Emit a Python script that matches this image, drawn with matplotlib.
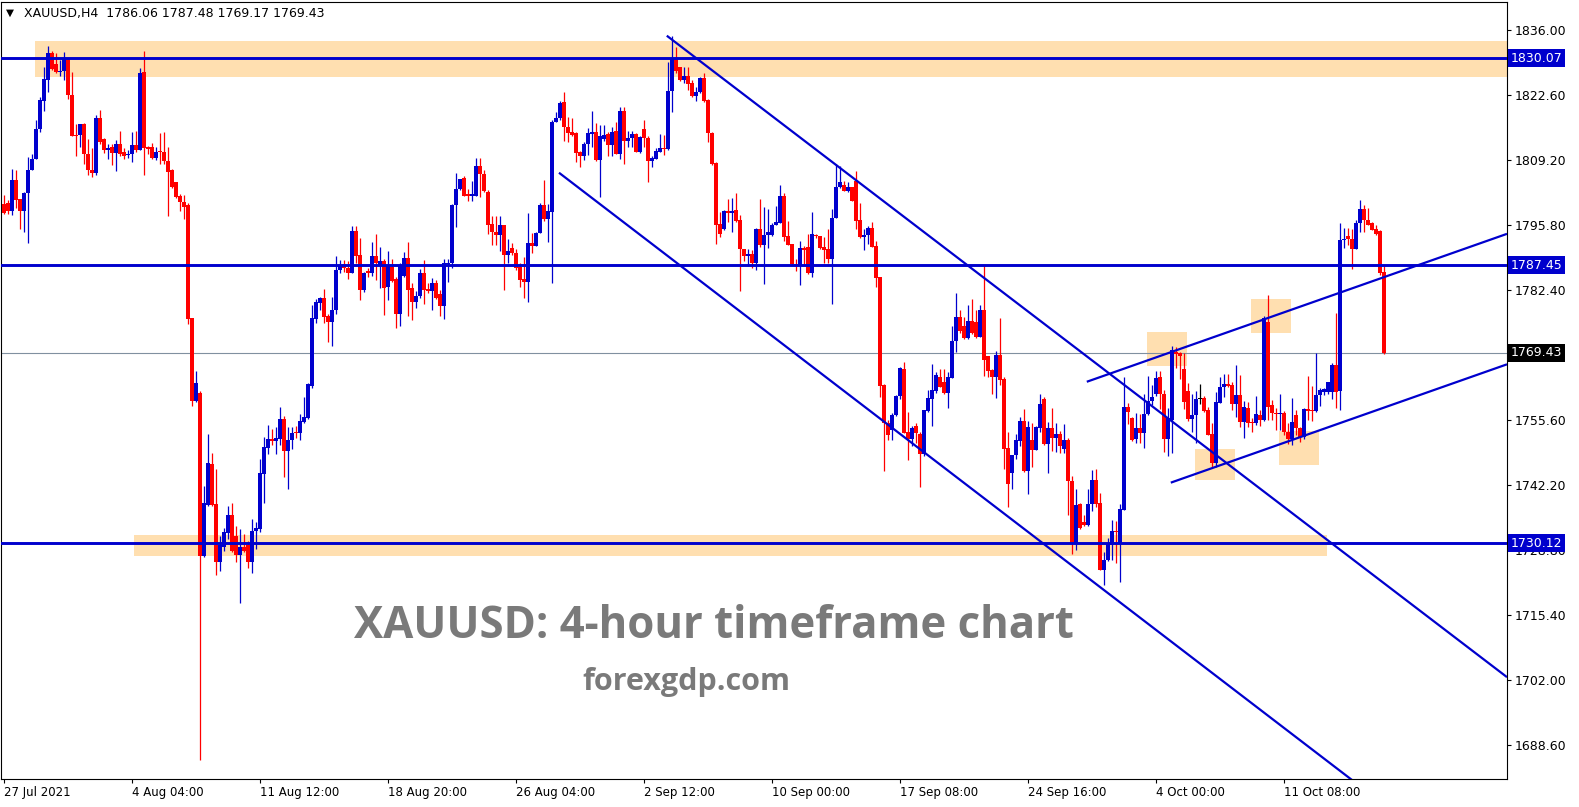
import numpy as np
import matplotlib
matplotlib.use('Agg')
from matplotlib import pyplot as plt
from matplotlib.patches import Rectangle

# XAUUSD H4 bars (index 0 = 27 Jul 20:00)
opens = [
    1800.1, 1800.2, 1798.6, 1804.9, 1801.0, 1798.7, 1802.3, 1807.0, 1809.4, 1815.5,
    1821.3, 1825.6, 1831.2, 1828.9, 1827.3, 1827.5, 1829.9, 1822.5, 1814.3, 1814.2,
    1816.5, 1810.4, 1807.1, 1806.4, 1817.8, 1813.4, 1811.1, 1811.8, 1810.6, 1812.5,
    1810.7, 1810.1, 1810.3, 1812.3, 1811.1, 1827.2, 1811.8, 1811.9, 1809.5, 1810.9,
    1810.8, 1809.0, 1807.0, 1804.5, 1801.7, 1800.5, 1799.8, 1776.5, 1759.5, 1761.1,
    1727.4, 1737.9, 1746.5, 1738.2, 1726.2, 1729.3, 1732.2, 1736.0, 1731.6, 1727.6,
    1729.4, 1729.7, 1726.2, 1732.6, 1733.1, 1744.4, 1749.8, 1751.5, 1751.2, 1751.6,
    1755.7, 1749.1, 1751.4, 1753.1, 1752.8, 1755.1, 1756.0, 1762.5, 1776.4, 1779.6,
    1780.6, 1776.9, 1775.8, 1778.3, 1786.5, 1787.7, 1786.9, 1785.9, 1794.5, 1789.5,
    1782.3, 1786.2, 1785.9, 1789.3, 1787.5, 1788.2, 1782.9, 1787.1, 1784.5, 1777.3,
    1785.2, 1789.0, 1782.8, 1779.9, 1781.0, 1785.9, 1782.5, 1782.1, 1783.8, 1781.4,
    1779.0, 1787.6, 1787.8, 1799.8, 1803.1, 1805.4, 1802.1, 1801.7, 1801.8, 1807.9,
    1806.2, 1802.6, 1795.9, 1794.3, 1793.7, 1795.7, 1789.5, 1791.0, 1790.0, 1787.1,
    1784.6, 1784.0, 1792.1, 1791.4, 1794.0, 1799.8, 1797.0, 1798.5, 1817.0, 1817.8,
    1821.1, 1815.9, 1814.9, 1814.7, 1810.7, 1809.9, 1812.5, 1814.4, 1814.9, 1809.2,
    1813.5, 1814.4, 1812.2, 1815.1, 1810.4, 1819.3, 1813.0, 1813.7, 1814.4, 1810.7,
    1815.6, 1813.7, 1808.9, 1809.4, 1810.8, 1811.6, 1811.4, 1823.3, 1829.9, 1828.3,
    1825.6, 1826.4, 1824.9, 1822.3, 1823.2, 1826.1, 1821.5, 1814.7, 1808.6, 1796.0,
    1794.8, 1798.6, 1798.2, 1798.9, 1796.8, 1790.8, 1789.4, 1789.8, 1787.9, 1794.8,
    1791.7, 1793.6, 1793.7, 1795.7, 1796.1, 1801.8, 1793.5, 1791.8, 1787.7, 1787.5,
    1791.0, 1791.1, 1785.9, 1793.7, 1793.5, 1791.2, 1790.8, 1788.8, 1797.2, 1803.5,
    1803.9, 1802.8, 1803.5, 1804.8, 1796.8, 1793.2, 1793.7, 1795.1, 1791.3, 1784.9,
    1762.7, 1754.8, 1753.4, 1756.5, 1760.4, 1766.0, 1753.1, 1751.7, 1754.2, 1752.7,
    1748.5, 1757.3, 1759.8, 1761.5, 1764.4, 1763.4, 1761.1, 1764.2, 1771.9, 1776.7,
    1774.9, 1772.4, 1775.9, 1775.8, 1772.6, 1778.2, 1768.7, 1765.8, 1764.4, 1768.9,
    1763.9, 1749.8, 1744.6, 1748.2, 1751.2, 1755.3, 1745.1, 1751.4, 1749.4, 1753.9,
    1759.8, 1750.6, 1753.8, 1751.9, 1752.6, 1749.6, 1751.3, 1743.0, 1730.1, 1738.2,
    1734.4, 1733.9, 1738.3, 1743.1, 1738.4, 1724.5, 1726.6, 1729.8, 1732.7, 1730.1,
    1737.0, 1758.3, 1756.0, 1751.5, 1753.8, 1752.8, 1756.7, 1759.4, 1760.8, 1764.3,
    1760.8, 1751.5, 1755.5, 1769.6, 1769.4, 1766.0, 1761.5, 1755.7, 1756.5, 1759.9,
    1760.0, 1757.5, 1752.6, 1746.7, 1759.1, 1762.4, 1762.9, 1762.7, 1758.9, 1760.6,
    1755.1, 1757.9, 1755.0, 1754.8, 1756.5, 1755.5, 1775.8, 1758.6, 1757.0, 1756.7,
    1756.9, 1753.1, 1751.5, 1756.5, 1753.9, 1752.0, 1757.7, 1757.5, 1757.4, 1760.7,
    1761.3, 1761.3, 1761.2, 1766.9, 1761.5, 1792.6, 1793.4, 1792.8, 1790.8, 1796.1,
    1799.1, 1796.8, 1796.1, 1794.9, 1794.4, 1786.06,
]
highs = [
    1802.0, 1800.8, 1807.3, 1807.0, 1801.1, 1802.5, 1809.7, 1810.3, 1817.4, 1822.1,
    1828.2, 1832.6, 1831.6, 1831.1, 1829.7, 1831.4, 1830.1, 1827.3, 1816.5, 1816.5,
    1816.8, 1813.4, 1811.7, 1818.5, 1819.4, 1813.7, 1812.5, 1812.5, 1813.3, 1815.0,
    1811.5, 1811.1, 1814.8, 1815.0, 1828.0, 1831.6, 1812.1, 1812.6, 1811.9, 1814.6,
    1814.9, 1811.9, 1807.2, 1804.6, 1802.2, 1802.0, 1800.2, 1776.6, 1765.7, 1761.5,
    1742.0, 1752.6, 1748.7, 1745.5, 1731.7, 1733.3, 1737.7, 1738.4, 1733.7, 1733.0,
    1732.0, 1730.6, 1735.2, 1734.5, 1747.4, 1752.0, 1754.5, 1753.7, 1754.1, 1758.2,
    1756.3, 1754.1, 1754.0, 1754.2, 1756.8, 1760.2, 1763.2, 1779.2, 1780.5, 1780.8,
    1782.5, 1777.4, 1780.9, 1789.4, 1788.6, 1788.6, 1788.4, 1795.5, 1795.5, 1793.1,
    1786.1, 1786.8, 1792.2, 1793.9, 1791.1, 1788.8, 1790.3, 1788.8, 1785.0, 1787.8,
    1790.1, 1792.3, 1783.7, 1782.1, 1786.6, 1788.5, 1783.8, 1784.7, 1784.3, 1782.3,
    1788.7, 1788.7, 1800.1, 1806.4, 1805.3, 1805.8, 1803.2, 1804.7, 1809.5, 1809.5,
    1807.1, 1803.0, 1797.6, 1797.6, 1797.6, 1795.7, 1792.9, 1792.1, 1790.8, 1787.8,
    1789.2, 1798.1, 1794.1, 1794.3, 1800.2, 1805.0, 1800.0, 1817.4, 1819.1, 1821.3,
    1823.2, 1817.9, 1817.7, 1814.8, 1811.0, 1812.8, 1815.8, 1819.3, 1816.8, 1816.3,
    1816.3, 1814.9, 1815.9, 1817.0, 1820.1, 1820.1, 1815.1, 1815.2, 1814.6, 1814.0,
    1817.3, 1814.0, 1809.9, 1811.5, 1814.5, 1814.2, 1829.4, 1834.7, 1832.5, 1828.3,
    1828.3, 1828.2, 1825.6, 1824.2, 1826.3, 1827.1, 1821.8, 1814.9, 1808.7, 1798.3,
    1798.9, 1801.1, 1801.3, 1802.3, 1797.8, 1790.8, 1790.8, 1790.6, 1795.1, 1801.0,
    1799.4, 1799.0, 1796.1, 1799.6, 1803.9, 1802.3, 1796.6, 1791.8, 1788.7, 1792.5,
    1791.4, 1793.9, 1798.4, 1793.9, 1793.5, 1793.2, 1794.8, 1799.0, 1808.2, 1807.9,
    1804.8, 1804.5, 1803.5, 1806.8, 1800.2, 1794.8, 1795.5, 1796.3, 1792.5, 1784.9,
    1763.0, 1755.5, 1756.9, 1760.6, 1766.4, 1767.4, 1757.1, 1754.3, 1754.9, 1753.0,
    1757.6, 1761.8, 1767.1, 1765.5, 1766.0, 1766.1, 1765.4, 1774.9, 1781.8, 1778.2,
    1776.8, 1779.3, 1780.4, 1778.2, 1779.3, 1787.5, 1768.7, 1766.0, 1769.8, 1776.5,
    1764.4, 1753.1, 1748.4, 1752.7, 1756.1, 1757.7, 1755.3, 1754.8, 1754.3, 1760.9,
    1760.3, 1755.1, 1757.9, 1755.0, 1753.3, 1754.6, 1751.9, 1743.9, 1741.3, 1738.4,
    1735.9, 1741.3, 1745.3, 1745.5, 1740.5, 1728.4, 1731.1, 1735.0, 1734.6, 1738.1,
    1764.3, 1759.1, 1756.2, 1757.0, 1756.7, 1760.8, 1764.6, 1762.7, 1765.6, 1765.6,
    1761.8, 1757.9, 1770.8, 1770.6, 1769.5, 1769.4, 1763.2, 1760.8, 1761.5, 1762.9,
    1760.4, 1758.3, 1755.0, 1761.3, 1764.4, 1765.1, 1765.1, 1763.3, 1766.9, 1764.8,
    1759.5, 1759.3, 1755.9, 1760.4, 1757.5, 1776.9, 1781.3, 1759.6, 1757.9, 1760.9,
    1757.4, 1754.8, 1760.0, 1757.5, 1754.1, 1757.9, 1764.6, 1762.5, 1769.4, 1762.1,
    1762.1, 1763.4, 1767.2, 1777.5, 1796.1, 1795.1, 1795.1, 1794.9, 1796.8, 1800.8,
    1799.9, 1799.3, 1796.4, 1795.8, 1794.7, 1787.48,
]
lows = [
    1797.9, 1797.9, 1797.7, 1799.3, 1795.0, 1794.2, 1792.1, 1807.0, 1809.3, 1814.9,
    1819.2, 1823.2, 1827.6, 1827.0, 1826.5, 1825.6, 1821.6, 1814.1, 1809.9, 1811.8,
    1808.3, 1806.1, 1805.6, 1806.1, 1812.5, 1810.5, 1809.3, 1808.0, 1806.8, 1810.0,
    1809.4, 1809.5, 1808.7, 1810.8, 1811.1, 1806.1, 1810.3, 1809.4, 1809.2, 1808.3,
    1808.2, 1797.5, 1803.3, 1801.3, 1798.7, 1796.9, 1775.4, 1758.5, 1759.3, 1685.5,
    1727.3, 1737.7, 1737.7, 1723.6, 1724.4, 1728.5, 1731.0, 1728.4, 1726.2, 1717.7,
    1728.3, 1725.0, 1724.0, 1729.0, 1732.4, 1738.5, 1748.6, 1750.4, 1748.6, 1750.4,
    1743.8, 1741.3, 1749.6, 1751.9, 1751.4, 1755.0, 1755.8, 1762.1, 1775.6, 1778.1,
    1775.5, 1771.7, 1770.7, 1777.4, 1785.8, 1786.1, 1784.6, 1785.8, 1787.8, 1780.2,
    1781.9, 1785.1, 1785.2, 1784.4, 1782.8, 1777.1, 1780.3, 1784.0, 1774.4, 1775.0,
    1785.0, 1777.0, 1776.1, 1778.7, 1780.7, 1779.5, 1781.6, 1778.1, 1780.5, 1777.0,
    1776.4, 1784.0, 1786.8, 1795.4, 1802.9, 1801.8, 1800.6, 1800.6, 1801.7, 1801.5,
    1802.6, 1793.9, 1791.6, 1791.6, 1790.3, 1782.3, 1787.9, 1789.6, 1786.4, 1783.0,
    1780.7, 1779.9, 1790.0, 1791.4, 1794.0, 1796.6, 1792.3, 1783.7, 1816.9, 1817.3,
    1813.0, 1812.9, 1814.0, 1808.7, 1807.7, 1809.1, 1810.1, 1811.9, 1809.0, 1801.5,
    1813.1, 1810.0, 1810.0, 1810.4, 1809.4, 1808.4, 1811.8, 1811.8, 1810.7, 1810.6,
    1811.8, 1804.6, 1807.7, 1809.4, 1810.8, 1810.1, 1811.1, 1819.1, 1827.1, 1825.4,
    1825.1, 1823.6, 1822.2, 1821.3, 1822.9, 1821.1, 1812.9, 1808.1, 1791.9, 1793.2,
    1794.6, 1796.3, 1794.2, 1796.3, 1782.2, 1788.4, 1787.3, 1786.9, 1786.5, 1791.2,
    1783.6, 1790.9, 1793.5, 1795.7, 1796.1, 1792.5, 1791.5, 1787.5, 1786.3, 1783.4,
    1787.4, 1785.6, 1785.1, 1793.1, 1790.8, 1787.9, 1787.9, 1779.5, 1797.2, 1803.4,
    1802.7, 1802.6, 1800.6, 1794.8, 1793.0, 1790.6, 1791.9, 1791.2, 1782.9, 1760.3,
    1745.0, 1751.4, 1751.3, 1756.3, 1759.8, 1752.9, 1747.2, 1750.2, 1750.7, 1741.8,
    1748.0, 1757.2, 1754.2, 1761.0, 1762.4, 1760.8, 1757.9, 1764.1, 1769.6, 1773.5,
    1772.2, 1772.2, 1773.3, 1772.5, 1772.6, 1764.6, 1764.4, 1760.8, 1760.1, 1762.7,
    1745.5, 1737.6, 1741.3, 1747.5, 1750.2, 1744.8, 1740.2, 1745.8, 1749.3, 1753.1,
    1750.3, 1744.6, 1749.2, 1749.0, 1748.8, 1748.8, 1735.9, 1727.9, 1728.8, 1733.0,
    1733.6, 1733.6, 1736.8, 1737.5, 1724.5, 1721.5, 1726.4, 1726.7, 1726.1, 1722.2,
    1737.0, 1754.6, 1751.2, 1750.8, 1750.8, 1749.8, 1756.5, 1758.7, 1760.4, 1757.7,
    1748.9, 1748.0, 1748.8, 1766.2, 1763.9, 1757.7, 1755.3, 1753.0, 1750.8, 1758.9,
    1757.2, 1752.4, 1745.8, 1745.8, 1759.0, 1760.3, 1762.4, 1757.5, 1756.2, 1754.0,
    1751.9, 1754.0, 1753.0, 1754.5, 1754.2, 1755.4, 1755.5, 1755.5, 1753.4, 1753.4,
    1752.4, 1750.6, 1750.3, 1752.4, 1751.0, 1751.7, 1755.5, 1755.3, 1757.1, 1758.4,
    1760.6, 1760.8, 1759.9, 1757.9, 1757.5, 1790.9, 1791.6, 1786.6, 1790.8, 1794.2,
    1794.2, 1795.8, 1794.6, 1793.7, 1785.4, 1769.17,
]
closes = [
    1798.1, 1798.6, 1804.9, 1800.8, 1798.6, 1802.3, 1807.0, 1809.4, 1815.6, 1821.4,
    1825.8, 1831.2, 1827.8, 1827.2, 1827.5, 1829.9, 1822.5, 1814.1, 1814.1, 1816.5,
    1810.3, 1807.0, 1806.4, 1817.7, 1812.8, 1811.1, 1811.7, 1810.6, 1812.5, 1810.4,
    1809.9, 1810.3, 1812.3, 1811.1, 1827.0, 1811.6, 1811.4, 1809.5, 1810.8, 1810.8,
    1808.9, 1806.6, 1803.5, 1801.5, 1800.4, 1799.5, 1776.4, 1759.5, 1763.1, 1727.4,
    1738.4, 1746.7, 1737.9, 1726.2, 1729.7, 1732.4, 1736.0, 1728.5, 1727.6, 1729.4,
    1728.5, 1726.2, 1732.7, 1733.3, 1744.6, 1749.9, 1751.6, 1751.2, 1751.8, 1755.8,
    1749.1, 1751.4, 1752.8, 1752.9, 1755.3, 1756.2, 1763.0, 1776.5, 1779.8, 1780.6,
    1776.8, 1775.8, 1778.3, 1786.5, 1787.3, 1786.8, 1785.9, 1794.5, 1789.4, 1782.3,
    1785.9, 1785.9, 1789.3, 1787.8, 1788.2, 1782.8, 1787.3, 1784.1, 1777.3, 1787.2,
    1789.0, 1782.4, 1779.9, 1781.0, 1785.9, 1782.4, 1782.1, 1783.8, 1780.7, 1779.0,
    1787.8, 1787.9, 1799.8, 1803.2, 1805.2, 1801.8, 1801.8, 1802.1, 1807.9, 1806.2,
    1802.7, 1795.7, 1794.2, 1793.7, 1795.7, 1789.5, 1790.3, 1789.9, 1786.9, 1784.4,
    1784.0, 1792.1, 1791.4, 1794.0, 1799.8, 1797.0, 1798.6, 1817.0, 1817.8, 1820.9,
    1815.9, 1814.7, 1814.2, 1810.6, 1809.9, 1812.5, 1814.7, 1814.9, 1809.2, 1814.0,
    1814.2, 1812.2, 1814.9, 1810.4, 1819.3, 1813.0, 1813.7, 1814.4, 1810.7, 1813.9,
    1813.7, 1808.9, 1809.6, 1811.0, 1811.6, 1811.4, 1823.3, 1830.1, 1827.5, 1825.6,
    1826.4, 1824.7, 1822.3, 1823.2, 1826.1, 1821.3, 1814.6, 1808.4, 1795.8, 1793.9,
    1798.6, 1798.2, 1798.7, 1796.5, 1790.8, 1789.3, 1789.8, 1787.9, 1794.8, 1791.7,
    1793.7, 1794.3, 1795.8, 1796.3, 1801.8, 1793.2, 1791.5, 1787.7, 1787.5, 1791.0,
    1790.6, 1785.9, 1793.9, 1793.4, 1791.0, 1790.6, 1788.8, 1797.2, 1803.6, 1804.6,
    1802.8, 1803.6, 1800.6, 1796.5, 1793.2, 1793.7, 1795.1, 1791.2, 1784.8, 1762.5,
    1754.8, 1752.4, 1756.5, 1760.4, 1766.2, 1752.9, 1751.7, 1753.9, 1752.9, 1748.5,
    1757.5, 1760.0, 1761.7, 1764.8, 1762.4, 1761.1, 1764.4, 1771.9, 1776.8, 1773.8,
    1772.4, 1776.0, 1773.4, 1772.6, 1778.2, 1767.8, 1765.7, 1764.4, 1768.9, 1763.8,
    1749.6, 1742.4, 1748.2, 1751.4, 1755.3, 1744.9, 1754.1, 1749.4, 1754.1, 1758.9,
    1750.5, 1753.9, 1751.9, 1752.6, 1750.1, 1751.3, 1742.9, 1730.1, 1737.9, 1733.3,
    1733.9, 1738.3, 1743.1, 1738.3, 1724.5, 1726.6, 1730.1, 1732.7, 1732.5, 1737.2,
    1758.3, 1757.2, 1751.4, 1753.8, 1752.8, 1756.7, 1759.4, 1760.3, 1764.1, 1760.8,
    1751.5, 1756.0, 1770.0, 1769.1, 1768.7, 1759.2, 1755.7, 1756.6, 1759.9, 1759.9,
    1757.4, 1752.5, 1746.7, 1759.3, 1762.4, 1762.9, 1762.6, 1758.9, 1760.6, 1755.1,
    1758.1, 1754.8, 1754.8, 1756.7, 1755.5, 1776.5, 1758.3, 1757.0, 1756.7, 1756.9,
    1753.1, 1751.5, 1755.1, 1753.8, 1752.0, 1757.7, 1757.4, 1757.4, 1760.7, 1761.7,
    1762.0, 1763.3, 1766.9, 1761.3, 1792.7, 1792.8, 1792.8, 1790.8, 1796.1, 1799.1,
    1796.8, 1795.8, 1794.6, 1793.9, 1785.9, 1769.43,
]

date_ticks = [0, 32, 64, 96, 128, 160, 192, 224, 256, 288, 320]
date_labels = ['27 Jul 2021', '4 Aug 04:00', '11 Aug 12:00', '18 Aug 20:00',
               '26 Aug 04:00', '2 Sep 12:00', '10 Sep 00:00', '17 Sep 08:00',
               '24 Sep 16:00', '4 Oct 00:00', '11 Oct 08:00']
price_ticks = [1836.0, 1822.6, 1809.2, 1795.8, 1782.4, 1769.0, 1755.6,
               1742.2, 1728.8, 1715.4, 1702.0, 1688.6]

levels = [1830.07, 1787.45, 1730.12]
last_price = 1769.43

# zones: (x0, x1, y0, y1)
zones = [(7.75, 376.0, 1826.2, 1833.7),
         (32.5, 330.75, 1727.5, 1731.8),
         (285.75, 295.7, 1766.7, 1773.7),
         (297.75, 307.75, 1743.2, 1749.55),
         (311.75, 321.75, 1773.5, 1780.5),
         (318.75, 328.75, 1746.25, 1753.3)]

# trend lines: ((x0, y0), (x1, y1))
trends = [((165.7, 1834.75), (375.75, 1702.5)),
          ((138.75, 1806.5), (340.0, 1679.4)),
          ((270.7, 1763.4), (375.75, 1793.9)),
          ((291.7, 1742.6), (375.75, 1767.0))]

BLUE = '#0000cd'
RED = '#ff0000'

W, H = 1579, 807
fig = plt.figure(figsize=(W / 100, H / 100), dpi=100)
ax = fig.add_axes([1 / W, 1 - 779 / H, 1506 / W, 777 / H])
ax.set_xlim(-0.75, 375.75)
ax.set_ylim(1681.5, 1841.7)

for x0, x1, y0, y1 in zones:
    ax.add_patch(Rectangle((x0, y0), x1 - x0, y1 - y0, facecolor='#ffdfb0',
                           edgecolor='none', zorder=0.5))

ax.axhline(last_price, color='#8090a0', lw=0.8, zorder=1)

o = np.array(opens)
h = np.array(highs)
l = np.array(lows)
c = np.array(closes)
x = np.arange(len(c))
cols = np.where(c > o, BLUE, np.where(c < o, RED, 'black'))
ax.vlines(x, l, h, colors=cols, lw=0.9, zorder=2)
body = np.maximum(np.abs(c - o), 0.22)
ax.bar(x, body, bottom=np.minimum(o, c), width=0.76, color=cols,
       linewidth=0, zorder=3)

for lv in levels:
    ax.axhline(lv, color=BLUE, lw=2.1, zorder=4)
for (x0, y0), (x1, y1) in trends:
    ax.plot([x0, x1], [y0, y1], color=BLUE, lw=1.6, zorder=4,
            solid_capstyle='butt')

# axes look
for s in ax.spines.values():
    s.set_color('black')
    s.set_linewidth(0.8)
ax.yaxis.tick_right()
ax.set_yticks(price_ticks)
# 1769.00 sits fully under the black last-price box, so it carries no text
ax.set_yticklabels(['' if p == 1769.0 else '%.2f' % p for p in price_ticks])
ax.tick_params(axis='y', length=3, width=0.8, pad=2.5, labelsize=9)
ax.set_xticks(date_ticks)
ax.set_xticklabels(date_labels)
ax.tick_params(axis='x', length=3, width=0.8, pad=2, labelsize=8.5)
for lab in ax.get_xticklabels():
    lab.set_ha('left')

ytr = ax.get_yaxis_transform()
for lv, bg in [(1830.07, BLUE), (1787.45, BLUE), (1730.12, BLUE), (last_price, 'black')]:
    ax.text(1.0025, lv, '%.2f' % lv, transform=ytr, ha='left', va='center',
            fontsize=9, color='white', zorder=6, clip_on=False,
            bbox=dict(boxstyle='square,pad=0.2', fc=bg, ec='none'))

ax.text(9 / 1506, 1 - 11 / 777, '\u25bc', transform=ax.transAxes, fontsize=7.5,
        ha='center', va='center')
ax.text(23 / 1506, 1 - 11 / 777, 'XAUUSD,H4  1786.06 1787.48 1769.17 1769.43',
        transform=ax.transAxes, fontsize=9, ha='left', va='center')

ax.text(177.5, 1712.9, 'XAUUSD: 4-hour timeframe chart', fontsize=31.5,
        fontfamily='Open Sans', fontweight='bold', color='#7a7a7a',
        ha='center', va='center', zorder=5)
ax.text(170.5, 1701.4, 'forexgdp.com', fontsize=22, fontfamily='Open Sans',
        fontweight='bold', color='#7a7a7a', ha='center', va='center', zorder=5)

fig.savefig('out.png', dpi=100, facecolor='white')
